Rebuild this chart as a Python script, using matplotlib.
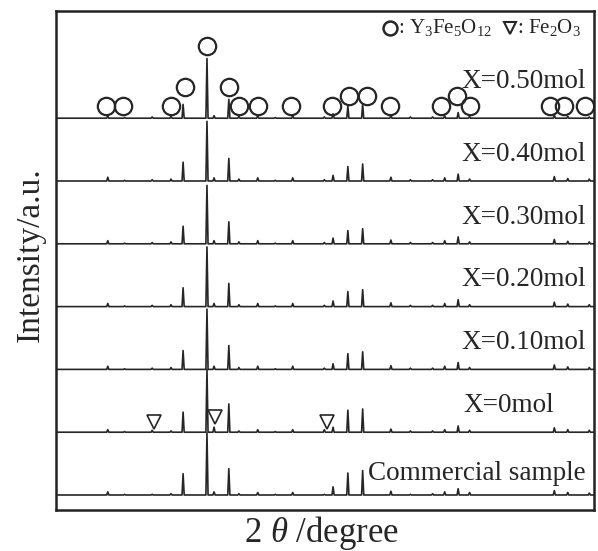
import numpy as np
import matplotlib
matplotlib.use("Agg")
import matplotlib.pyplot as plt

plt.rcParams['font.family'] = ['Liberation Serif', 'DejaVu Serif']
plt.rcParams['mathtext.fontset'] = 'custom'
plt.rcParams['mathtext.rm'] = 'Liberation Serif'
plt.rcParams['mathtext.it'] = 'Liberation Serif:italic'

# peak positions (2theta, deg) shared by all patterns
pos = [17.7, 20.2, 24.3, 27.1, 28.9, 32.45, 33.5, 35.7, 37.2, 40.0, 42.6, 45.2,
       49.9, 51.2, 53.4, 55.6, 59.8, 62.7, 66.0, 67.8, 69.8, 71.5, 84.1, 86.1, 89.3]

# peak heights per sample (1 = spacing between patterns)
h_comm = [0.05, 0.01, 0.01, 0.02, 0.34, 0.99, 0.05, 0.42, 0.02, 0.04, 0.01, 0.04,
          0.01, 0.13, 0.35, 0.39, 0.06, 0.01, 0.02, 0.05, 0.10, 0.04, 0.07, 0.04, 0.03]
h_x000 = [0.04, 0.01, 0.03, 0.02, 0.32, 1.00, 0.08, 0.45, 0.02, 0.04, 0.01, 0.04,
          0.04, 0.08, 0.35, 0.37, 0.05, 0.02, 0.02, 0.04, 0.10, 0.03, 0.07, 0.04, 0.03]
h_x010 = [0.05, 0.01, 0.02, 0.03, 0.30, 0.96, 0.05, 0.38, 0.03, 0.05, 0.01, 0.05,
          0.02, 0.09, 0.25, 0.28, 0.06, 0.02, 0.02, 0.05, 0.11, 0.03, 0.07, 0.04, 0.03]
h_x020 = [0.05, 0.01, 0.02, 0.03, 0.30, 0.95, 0.05, 0.37, 0.03, 0.05, 0.01, 0.05,
          0.02, 0.09, 0.24, 0.27, 0.06, 0.02, 0.02, 0.05, 0.11, 0.03, 0.07, 0.04, 0.03]
h_x030 = [0.05, 0.01, 0.02, 0.03, 0.28, 0.93, 0.05, 0.35, 0.03, 0.05, 0.01, 0.05,
          0.02, 0.09, 0.21, 0.24, 0.06, 0.02, 0.02, 0.05, 0.11, 0.03, 0.07, 0.04, 0.03]
h_x040 = [0.06, 0.01, 0.02, 0.03, 0.30, 0.95, 0.05, 0.36, 0.03, 0.05, 0.01, 0.05,
          0.02, 0.09, 0.23, 0.27, 0.06, 0.02, 0.02, 0.05, 0.11, 0.03, 0.07, 0.04, 0.03]
h_x050 = [0.04, 0.01, 0.02, 0.03, 0.22, 0.95, 0.04, 0.30, 0.03, 0.04, 0.01, 0.04,
          0.02, 0.07, 0.20, 0.22, 0.05, 0.02, 0.02, 0.04, 0.09, 0.03, 0.05, 0.03, 0.02]

heights = [h_comm, h_x000, h_x010, h_x020, h_x030, h_x040, h_x050]
labels = ['Commercial sample', 'X=0mol', 'X=0.10mol', 'X=0.20mol',
          'X=0.30mol', 'X=0.40mol', 'X=0.50mol']

# Y3Fe5O12 markers on the X=0.50 pattern
circ_x = [17.4, 20.0, 27.1, 29.15, 32.4, 35.75, 37.2, 40.1, 45.0, 51.0,
          53.6, 56.2, 59.7, 67.3, 69.6, 71.6, 83.5, 85.6, 88.7]
circ_y = [0.19, 0.19, 0.19, 0.49, 1.15, 0.49, 0.19, 0.19, 0.19, 0.19,
          0.35, 0.35, 0.19, 0.19, 0.35, 0.19, 0.19, 0.19, 0.19]
# Fe2O3 markers on the X=0 pattern
tri_x = [24.5, 33.6, 50.3]
tri_y = [0.16, 0.24, 0.16]

xmin, xmax = 10, 90
col = '#262626'

fig = plt.figure(figsize=(5.98, 5.51), dpi=100)
ax = fig.add_axes([56/598, 41/551, 538/598, 499/551])

for k, h in enumerate(heights):
    xs = [xmin]
    ys = [k]
    for p, v in zip(pos, h):
        xs += [p - 0.16, p, p + 0.16]
        ys += [k, k + v, k]
    xs.append(xmax)
    ys.append(k)
    ax.plot(xs, ys, color=col, lw=1.2)

ax.plot(circ_x, np.array(circ_y) + 6, 'o', mfc='none', mec=col, ms=12.5, mew=1.6)
ax.plot(tri_x, np.array(tri_y) + 1, 'v', mfc='none', mec=col, ms=10, mew=1.2)

# sample names
for k, lab in enumerate(labels):
    dy = 0.32
    xr = 0.985
    if k == 0:
        dy = 0.24
    if k == 1:
        xr = 0.926
    if k == 6:
        dy = 0.48
    ax.text(xr, k + dy, lab, transform=ax.get_yaxis_transform(), ha='right',
            va='baseline', fontsize=19.5, color=col)

# phase key at top right
ky = 0.966
ax.plot([(390 - 56) / 538], [ky], 'o', mfc='none', mec=col, ms=10, mew=1.8,
        transform=ax.transAxes, clip_on=False)
ax.text((398 - 56) / 538, ky, ': Y$_3$Fe$_5$O$_{12}$', transform=ax.transAxes,
        ha='left', va='center', fontsize=15, color=col)
ax.plot([(510 - 56) / 538], [ky], 'v', mfc='none', mec=col, ms=9, mew=1.5,
        transform=ax.transAxes, clip_on=False)
ax.text((517 - 56) / 538, ky, ': Fe$_2$O$_3$', transform=ax.transAxes,
        ha='left', va='center', fontsize=15, color=col)

ax.set_xlim(xmin, xmax)
ax.set_ylim(-0.239, 7.707)
ax.set_xticks([])
ax.set_yticks([])
for s in ax.spines.values():
    s.set_linewidth(1.8)
    s.set_color('#222222')

fig.text(321/598, 1 - 533/551, '2 $\\theta$ /degree', ha='center', va='center',
         fontsize=25, color=col)
fig.text(31/598, 1 - 255/551, 'Intensity/a.u.', ha='center', va='center',
         rotation=90, fontsize=24, color=col)

fig.savefig('out.png', dpi=100)
